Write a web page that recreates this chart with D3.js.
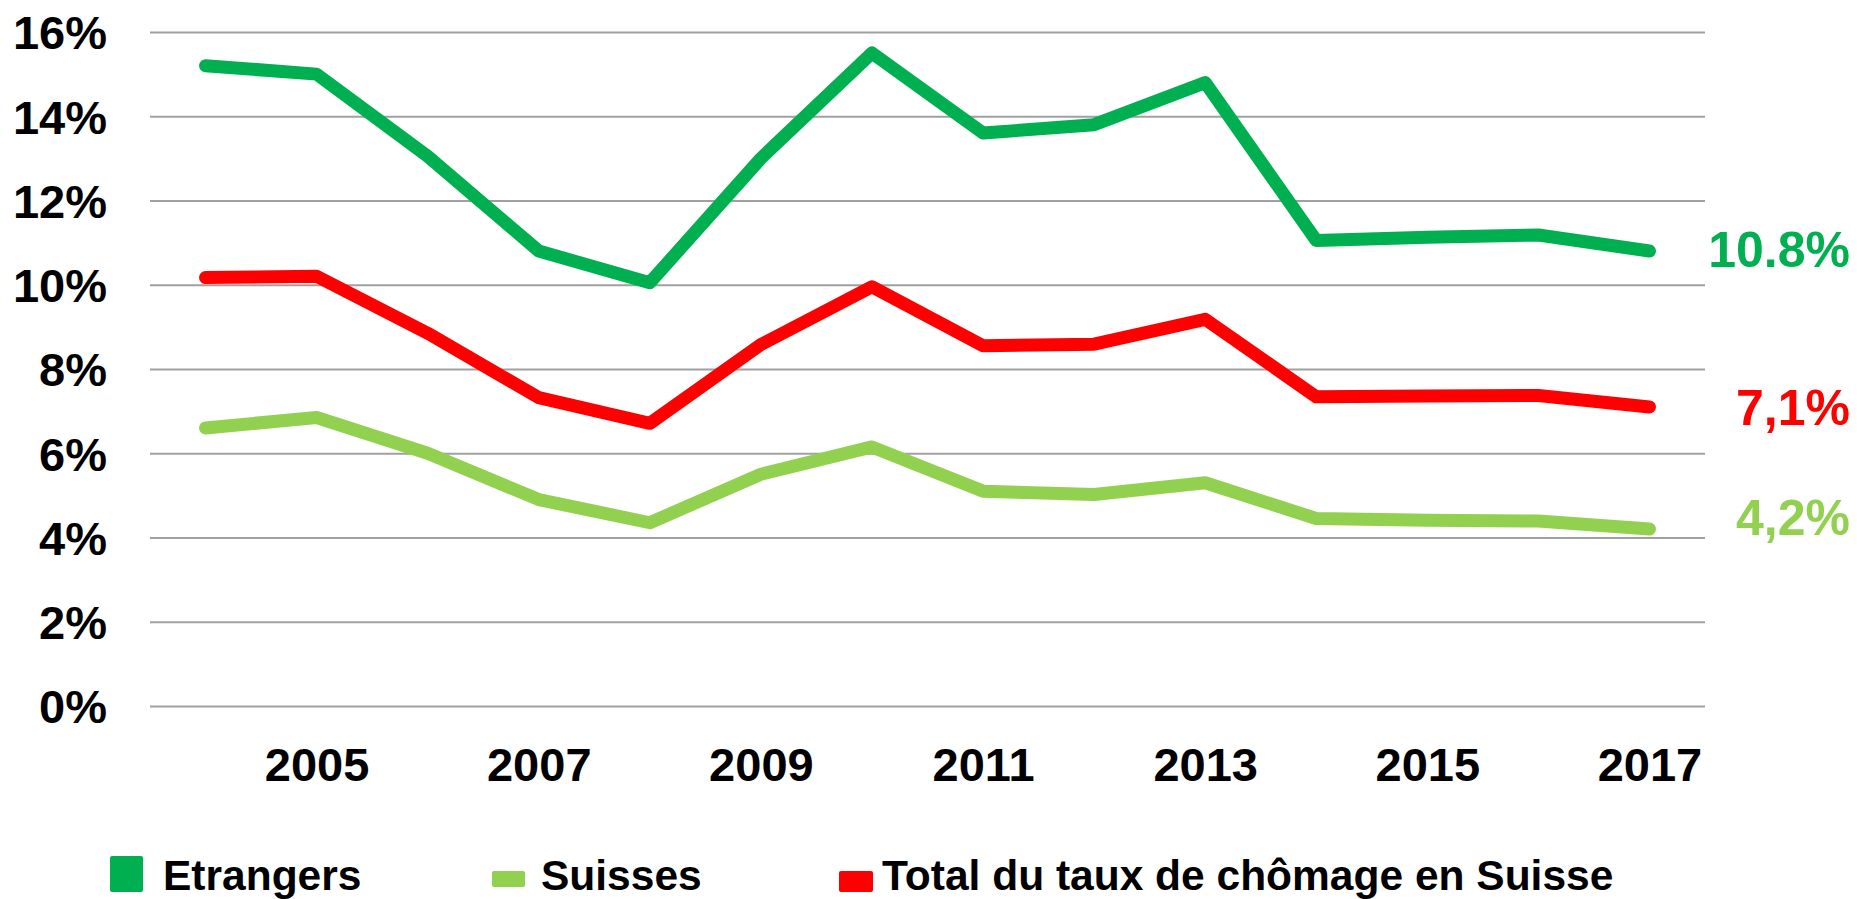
<!DOCTYPE html>
<html>
<head>
<meta charset="utf-8">
<script src="https://cdn.jsdelivr.net/npm/d3@7"></script>
<style>
  html, body { margin: 0; padding: 0; background: #fff; }
  svg text { font-family: "Liberation Sans", Arial, sans-serif; font-weight: bold; }
</style>
</head>
<body>
<svg id="chart" width="1857" height="899"></svg>
<script>
const years = [2004, 2005, 2006, 2007, 2008, 2009, 2010, 2011, 2012, 2013, 2014, 2015, 2016, 2017];
const xTickYears = [2005, 2007, 2009, 2011, 2013, 2015, 2017];
const yTicks = [0, 2, 4, 6, 8, 10, 12, 14, 16];
const etrangers = [15.2, 15.0, 13.05, 10.8, 10.05, 13.0, 15.5, 13.6, 13.8, 14.8, 11.05, 11.13, 11.18, 10.8];
const suisses   = [6.6, 6.85, 6.0, 4.9, 4.35, 5.5, 6.15, 5.1, 5.02, 5.3, 4.45, 4.41, 4.39, 4.2];
const total     = [10.17, 10.2, 8.85, 7.32, 6.71, 8.58, 9.95, 8.55, 8.59, 9.18, 7.34, 7.36, 7.37, 7.1];
const seriesNames = ["Etrangers", "Suisses", "Total du taux de chômage en Suisse"];
const endLabels = ["10.8%", "4,2%", "7,1%"];

const colors = ["#00B050", "#92D050", "#FF0000"];
const seriesValues = [etrangers, suisses, total];

const svg = d3.select("#chart");
const mLeft = 150, mRight = 1705, mTop = 32, mBottom = 706;

const x = d3.scalePoint().domain(years).range([mLeft, mRight]).padding(0.5);
const y = d3.scaleLinear().domain([0, 16]).range([mBottom, mTop]);

// gridlines + y labels
const yAxis = d3.axisLeft(y).tickValues(yTicks).tickSize(-(mRight - mLeft)).tickPadding(43).tickFormat(d => d + "%");
const gy = svg.append("g").attr("transform", `translate(${mLeft},0)`).call(yAxis);
gy.select(".domain").remove();
gy.selectAll(".tick line").attr("stroke", "#a0a0a0").attr("stroke-width", 1.8);
gy.selectAll(".tick text").attr("font-size", 47).attr("fill", "#000").attr("dy", "0.36em");

// x labels
const xAxis = d3.axisBottom(x).tickValues(xTickYears).tickSize(0).tickPadding(0).tickFormat(d3.format("d"));
const gx = svg.append("g").attr("transform", `translate(0,${mBottom})`).call(xAxis);
gx.select(".domain").remove();
gx.selectAll(".tick text").attr("font-size", 47).attr("fill", "#000").attr("dy", 0).attr("y", 75);

// lines
const line = d3.line().x((d, i) => x(years[i])).y(d => y(d));
[1, 2, 0].forEach(k => {
  svg.append("path")
    .datum(seriesValues[k])
    .attr("d", line)
    .attr("fill", "none")
    .attr("stroke", colors[k])
    .attr("stroke-width", 13)
    .attr("stroke-linecap", "round")
    .attr("stroke-linejoin", "round");
});

// end labels
const endBaselines = [267, 535, 425];
endLabels.forEach((t, k) => {
  svg.append("text")
    .attr("x", 1850).attr("y", endBaselines[k])
    .attr("text-anchor", "end")
    .attr("font-size", 50)
    .attr("fill", colors[k])
    .text(t);
});

// legend
const legendMarkers = [
  { x: 110, y: 856, w: 33, h: 36 },
  { x: 492, y: 871, w: 33, h: 16 },
  { x: 839, y: 871, w: 34, h: 21 }
];
const legendTextX = [163, 541, 882];
seriesNames.forEach((name, k) => {
  const m = legendMarkers[k];
  svg.append("rect").attr("x", m.x).attr("y", m.y).attr("width", m.w).attr("height", m.h)
    .attr("rx", 2).attr("fill", colors[k]);
  svg.append("text").attr("x", legendTextX[k]).attr("y", 890)
    .attr("font-size", 42.5).attr("fill", "#000").text(name);
});
</script>
</body>
</html>
